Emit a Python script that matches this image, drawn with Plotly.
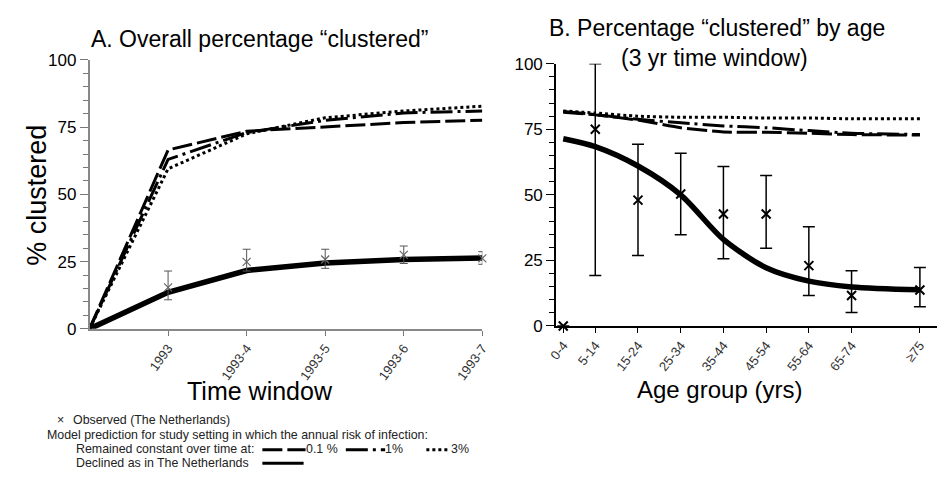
import plotly.graph_objects as go

W, H = 945, 481
FONT = "Arial, Liberation Sans, sans-serif"

# ---------------- Panel A data ----------------
time_labels = ["1993", "1993-4", "1993-5", "1993-6", "1993-7"]
time_pos = [0, 1, 2, 3, 4, 5]           # 0 = origin (no label)
a_model_01 = [0, 66.5, 73.5, 75.0, 76.7, 77.6]
a_model_1 = [0, 63.0, 73.0, 77.5, 80.3, 81.0]
a_model_3 = [0, 59.5, 72.5, 78.5, 81.0, 82.8]
a_model_decl = [0, 13.6, 21.7, 24.5, 25.8, 26.3]
a_obs = [15.4, 24.9, 25.8, 27.5, 26.2]
a_obs_hi = [21.5, 29.6, 29.6, 30.8, 28.7]
a_obs_lo = [10.8, 21.5, 22.5, 24.3, 24.0]

# ---------------- Panel B data ----------------
age_labels = ["0-4", "5-14", "15-24", "25-34", "35-44", "45-54", "55-64", "65-74", "≥75"]
age_mid = [2.5, 10, 20, 30, 40, 50, 60, 70, 86]
b_model_01 = [81.5, 80.5, 78.5, 75.6, 74.0, 73.9, 73.5, 73.0, 72.8]
b_model_1 = [81.8, 80.6, 78.8, 77.5, 76.3, 75.6, 74.5, 73.5, 73.0]
b_model_3 = [82.0, 81.2, 80.0, 79.6, 79.6, 79.3, 79.3, 79.0, 79.0]
b_model_decl = [71.4, 68.4, 61.0, 50.0, 33.0, 22.2, 17.1, 14.9, 13.8]
b_obs = [0, 75, 48, 50.3, 42.7, 42.7, 23, 11.6, 13.7]
b_obs_hi = [0, 100, 69.3, 65.9, 60.8, 57.4, 37.8, 21.1, 22.3]
b_obs_lo = [0, 19.2, 26.9, 34.8, 25.6, 29.6, 11.6, 5.1, 7.3]

y_ticks = [0, 25, 50, 75, 100]

DASH_01 = "20px,5px"
DASH_1 = "22px,5px,3px,5px"
DASH_3 = "3px,3px"

fig = go.Figure()

def model_lines(x, s01, s1, s3, sdecl, xa, ya, spline=False):
    shape = "spline" if spline else "linear"
    for ys, dash in [(s01, DASH_01), (s1, DASH_1), (s3, DASH_3)]:
        fig.add_trace(go.Scatter(x=x, y=ys, mode="lines", xaxis=xa, yaxis=ya,
                                 line=dict(color="black", width=3, dash=dash, shape=shape,
                                           smoothing=0.6 if spline else None)))
    fig.add_trace(go.Scatter(x=x, y=sdecl, mode="lines", xaxis=xa, yaxis=ya,
                             line=dict(color="black", width=5.5, shape=shape,
                                       smoothing=0.8 if spline else None)))

model_lines(time_pos, a_model_01, a_model_1, a_model_3, a_model_decl, "x", "y")
fig.add_trace(go.Scatter(
    x=time_pos[1:], y=a_obs, mode="markers", xaxis="x", yaxis="y", cliponaxis=False,
    marker=dict(symbol="x-thin", size=8, line=dict(width=1.2, color="#666666")),
    error_y=dict(type="data", symmetric=False,
                 array=[h - o for h, o in zip(a_obs_hi, a_obs)],
                 arrayminus=[o - l for o, l in zip(a_obs, a_obs_lo)],
                 color="#555555", thickness=1, width=4)))

model_lines(age_mid, b_model_01, b_model_1, b_model_3, b_model_decl, "x2", "y2", spline=True)
fig.add_trace(go.Scatter(
    x=age_mid, y=b_obs, mode="markers", xaxis="x2", yaxis="y2", cliponaxis=False,
    marker=dict(symbol="x-thin", size=9, line=dict(width=2, color="black")),
    error_y=dict(type="data", symmetric=False,
                 array=[h - o for h, o in zip(b_obs_hi, b_obs)],
                 arrayminus=[o - l for o, l in zip(b_obs, b_obs_lo)],
                 color="black", thickness=1.5, width=6)))

def px(x):
    return x / W

def py(y):
    return 1 - y / H

tickfont = dict(family=FONT, size=17, color="black")
minor = dict(tickmode="linear", tick0=0, dtick=5, ticks="outside", ticklen=5,
             tickwidth=1)

fig.update_layout(
    width=W, height=H, margin=dict(l=0, r=0, t=0, b=0),
    paper_bgcolor="white", plot_bgcolor="white", showlegend=False,
    font=dict(family=FONT, color="black"),
    xaxis=dict(domain=[px(82), px(482)], range=[0, 5], tickmode="array",
               tickvals=time_pos[1:], ticktext=time_labels, tickangle=-54,
               ticks="outside", ticklen=5, tickcolor="#777777",
               tickfont=dict(family=FONT, size=13, color="#333333"),
               showline=True, linecolor="#888888", linewidth=1.5, showgrid=False,
               zeroline=False, anchor="y"),
    yaxis=dict(domain=[py(333), py(53)], range=[0, 100], tickmode="array",
               tickvals=y_ticks, ticks="outside", ticklen=8, tickcolor="#777777",
               tickfont=tickfont, minor=dict(minor, tickcolor="#777777"),
               showline=True, linecolor="#888888", linewidth=1.5, showgrid=False,
               zeroline=False, anchor="x"),
    xaxis2=dict(domain=[px(557), 1.0], range=[0.8, 90], tickmode="array",
                tickvals=age_mid, ticktext=age_labels, tickangle=-52,
                ticks="outside", ticklen=5, tickcolor="black",
                tickfont=dict(family=FONT, size=13, color="#333333"),
                showline=True, linecolor="black", linewidth=1.5, showgrid=False,
                zeroline=False, anchor="y2"),
    yaxis2=dict(domain=[py(330), py(57)], range=[0, 100], tickmode="array",
                tickvals=y_ticks, ticks="outside", ticklen=8, tickcolor="black",
                tickfont=tickfont, minor=dict(minor, tickcolor="black"),
                showline=True, linecolor="black", linewidth=1.5, showgrid=False,
                zeroline=False, anchor="x2"),
)

ann = []
def text(x, y, s, size, xanchor="center", angle=0, color="black"):
    ann.append(dict(x=px(x), y=py(y), xref="paper", yref="paper", text=s,
                    showarrow=False, xanchor=xanchor, yanchor="middle",
                    textangle=angle, font=dict(family=FONT, size=size, color=color)))

text(256, 31, "A. Overall percentage “clustered”", 23)
text(721, 20, "B. Percentage “clustered” by age", 23)
text(718, 51, "(3 yr time window)", 23)
text(29, 194, "% clustered", 27, angle=-90)
text(256, 398, "Time window", 25)
text(724, 396, "Age group (yrs)", 24)

LG = 12.4
LC = "#222222"
text(47, 428, "×", LG, xanchor="left", color=LC)
text(63, 428, "Observed (The Netherlands)", LG, xanchor="left", color=LC)
text(37, 443, "Model prediction for study setting in which the annual risk of infection:", LG,
     xanchor="left", color=LC)
text(66, 458, "Remained constant over time at:", LG, xanchor="left", color=LC)
text(300, 458, "0.1 %", LG, xanchor="left", color=LC)
text(381, 458, "1%", LG, xanchor="left", color=LC)
text(448, 458, "3%", LG, xanchor="left", color=LC)
text(66, 473, "Declined as in The Netherlands", LG, xanchor="left", color=LC)

shapes = []
def sample(x0, x1, y, dash, width=3):
    shapes.append(dict(type="line", xref="paper", yref="paper", x0=px(x0), x1=px(x1),
                       y0=py(y), y1=py(y), line=dict(color="black", width=width, dash=dash)))

sample(258, 302, 459, DASH_01)
sample(343, 383, 459, DASH_1)
sample(425, 449, 459, DASH_3)
sample(258, 300, 473, "solid")

fig.update_layout(annotations=ann, shapes=shapes)

fig.write_html("out.html", config={"displayModeBar": False},
               post_script="document.body.style.margin='0';document.body.style.overflow='hidden';")
